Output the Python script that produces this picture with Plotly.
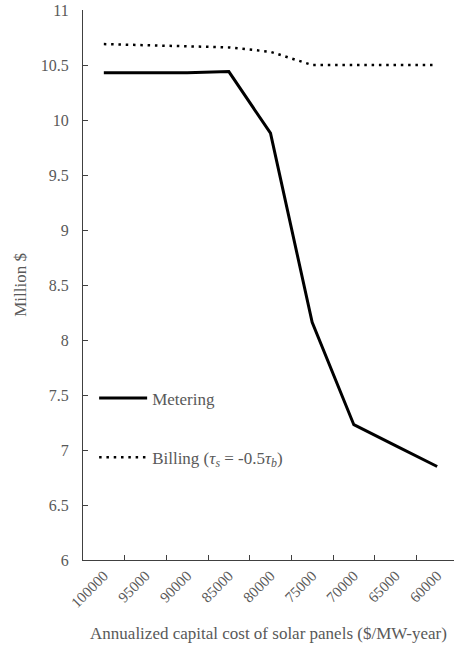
import plotly.graph_objects as go

# Annualized capital cost of solar panels ($/MW-year), shown high to low
costs = ["100000", "95000", "90000", "85000", "80000", "75000", "70000", "65000", "60000"]

# Total cost in million $
metering = [10.43, 10.43, 10.43, 10.44, 9.88, 8.16, 7.23, 7.04, 6.85]
billing = [10.69, 10.68, 10.67, 10.66, 10.62, 10.50, 10.50, 10.50, 10.50]

y_ticks = [6, 6.5, 7, 7.5, 8, 8.5, 9, 9.5, 10, 10.5, 11]

FONT = "Liberation Serif"
GREY = "#595959"

fig = go.Figure()
fig.add_trace(go.Scatter(
    x=costs, y=metering, mode="lines", name="Metering",
    legendgroup="m",
    line=dict(color="black", width=3),
))
fig.add_trace(go.Scatter(
    x=costs, y=billing, mode="lines",
    name="Billing (<i>τ<sub>s</sub></i> = -0.5<i>τ<sub>b</sub></i>)",
    legendgroup="b",
    line=dict(color="black", width=2.5, dash="2.5px,4.8px"),
))

fig.update_layout(
    width=454, height=652,
    margin=dict(l=83, r=0, t=10, b=92),
    paper_bgcolor="white", plot_bgcolor="white",
    font=dict(family=FONT, size=16, color=GREY),
    showlegend=True,
    legend=dict(
        x=0.03, y=0.24, xanchor="left", yanchor="middle",
        bgcolor="rgba(0,0,0,0)",
        traceorder="grouped", tracegroupgap=34,
        itemwidth=48,
        font=dict(family=FONT, size=17, color=GREY),
    ),
    xaxis=dict(
        type="category",
        range=[-0.5, 8.404],
        title=dict(text="Annualized capital cost of solar panels ($/MW-year)",
                   font=dict(family=FONT, size=17, color=GREY), standoff=17),
        tickangle=-45,
        ticks="inside", ticklen=5, tickcolor="#404040", tickson="boundaries",
        showline=True, linecolor="#404040", linewidth=1.3,
        showgrid=False, zeroline=False,
        tickfont=dict(family=FONT, size=15, color=GREY),
    ),
    yaxis=dict(
        range=[6, 11],
        tickvals=y_ticks,
        ticktext=[f"{v:g}" for v in y_ticks],
        title=dict(text="Million $", font=dict(family=FONT, size=17, color=GREY), standoff=9),
        ticks="inside", ticklen=5, tickcolor="#404040",
        ticklabelstandoff=10,
        showline=True, linecolor="#404040", linewidth=1.3,
        showgrid=False, zeroline=False,
        tickfont=dict(family=FONT, size=16, color=GREY),
    ),
)

fig.write_html("out.html")
